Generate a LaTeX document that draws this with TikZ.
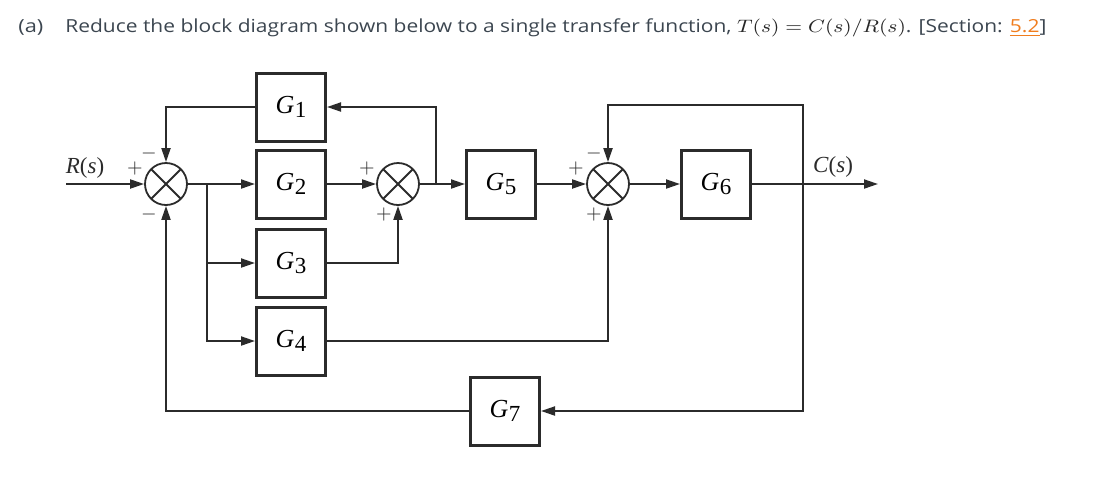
\documentclass[tikz,border=0pt]{standalone}
\usepackage{fontspec}
\setmainfont{Liberation Serif}
\newfontfamily\titlefont{Open Sans}
\usetikzlibrary{arrows.meta,calc}
\definecolor{ln}{HTML}{2B2B2B}
\definecolor{tt}{HTML}{3C4650}
\definecolor{org}{HTML}{F07D1E}
\newcommand\gname[1]{\textit{G}\kern0.3pt\raisebox{-0.35ex}{\fontsize{11.5}{12}\selectfont #1}}
\begin{document}
\begin{tikzpicture}[x=0.5pt,y=-0.5pt,
 blk/.style={draw=ln,line width=1.5pt,minimum width=34.5pt,minimum height=34pt,inner sep=0pt,font=\fontsize{13}{13}\selectfont},
 sumj/.style={draw=ln,circle,line width=0.9pt,minimum size=21pt,inner sep=0pt,
   path picture={\draw[ln,line width=0.9pt] (path picture bounding box.north west)--(path picture bounding box.south east) (path picture bounding box.north east)--(path picture bounding box.south west);}},
 wire/.style={draw=ln,line width=1pt},
 arr/.style={wire,-{Triangle[length=7pt,width=4.5pt]}},
 sg/.style={font=\fontsize{10}{10}\selectfont,text=ln,inner sep=0pt},
 lbl/.style={font=\fontsize{11.5}{12}\selectfont,text=ln,inner sep=0pt}
]
\useasboundingbox (0,0) rectangle (1117,489);
% title
\node[anchor=base west,inner sep=0pt,text=tt,font=\titlefont\fontsize{9}{11}\selectfont] (ta) at (18,32) {\resizebox{12.5pt}{\height}{(a)}};
\node[anchor=base west,inner sep=0pt,text=tt,font=\titlefont\fontsize{9}{11}\selectfont] (title) at (65,32)
 {\resizebox{490.5pt}{\height}{Reduce the block diagram shown below to a single transfer function, \textcolor{black!85}{$T(s)=C(s)/R(s)$}. [Section: {\color{org}\underline{5.2}}]}};
% blocks
\node[sumj] (s1) at (166,184) {};
\node[sumj] (s2) at (398,184) {};
\node[sumj] (s3) at (608,184) {};
\node[blk] (g1) at (291,107) {\gname{1}};
\node[blk] (g2) at (291,184) {\gname{2}};
\node[blk] (g3) at (291,263) {\gname{3}};
\node[blk] (g4) at (291,341) {\gname{4}};
\node[blk] (g5) at (501,184) {\gname{5}};
\node[blk] (g6) at (716,184) {\gname{6}};
\node[blk] (g7) at (505,411) {\gname{7}};
% coordinates
\coordinate (rin) at (66,184);
\coordinate (b1) at (207,184);
\coordinate (b2) at (436,184);
\coordinate (b3) at (803,184);
\coordinate (cout) at (878,184);
\coordinate (t3) at (608,105);
% wires
\draw[arr] (rin) -- (s1.west);
\draw[arr] (s1.east) -- (g2.west);
\draw[arr] (b1) |- (g3.west);
\draw[arr] (b1) |- (g4.west);
\draw[arr] (g2.east) -- (s2.west);
\draw[arr] (g3.east) -| (s2.south);
\draw[arr] (s2.east) -- (g5.west);
\draw[arr] (b2) |- (g1.east);
\draw[arr] (g1.west) -| (s1.north);
\draw[arr] (g5.east) -- (s3.west);
\draw[arr] (s3.east) -- (g6.west);
\draw[arr] (g6.east) -- (cout);
\draw[arr] (b3) |- (t3) -- (s3.north);
\draw[arr] (b3) |- (g7.east);
\draw[arr] (g7.west) -| (s1.south);
\draw[arr] (g4.east) -| (s3.south);
% labels
\node[lbl] (rl) at (85,168) {\textit{R}(\textit{s})};
\node[lbl] (cl) at (833,167) {\textit{C}(\textit{s})};
\node[sg] (p1) at (135,168) {$+$};
\node[sg] (m1) at (149,153) {$-$};
\node[sg] (m2) at (149,214) {$-$};
\node[sg] (p2) at (367,168) {$+$};
\node[sg] (p3) at (384,214) {$+$};
\node[sg] (p4) at (576,168) {$+$};
\node[sg] (m3) at (594,153) {$-$};
\node[sg] (p5) at (594,214) {$+$};
\end{tikzpicture}
\end{document}
